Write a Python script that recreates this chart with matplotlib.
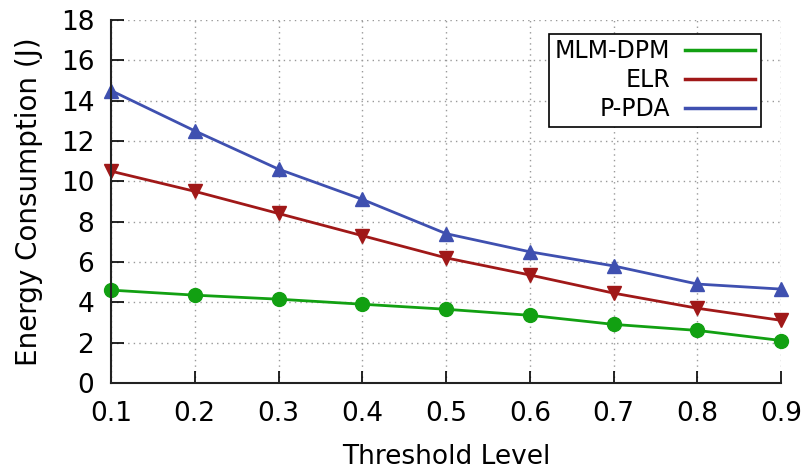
import matplotlib.pyplot as plt
from matplotlib.lines import Line2D

thresholds = [0.1, 0.2, 0.3, 0.4, 0.5, 0.6, 0.7, 0.8, 0.9]
mlm_dpm = [4.6, 4.35, 4.15, 3.9, 3.65, 3.35, 2.9, 2.6, 2.1]
elr = [10.5, 9.5, 8.4, 7.3, 6.2, 5.35, 4.45, 3.7, 3.1]
p_pda = [14.5, 12.5, 10.6, 9.1, 7.4, 6.5, 5.8, 4.9, 4.65]

fig = plt.figure(figsize=(8.07, 4.75), dpi=100)
ax = fig.add_axes([0.1375, 0.194, 0.8305, 0.764])

ax.plot(thresholds, mlm_dpm, color='#12a012', lw=2, marker='o', ms=10, label='MLM-DPM')
ax.plot(thresholds, elr, color='#a01818', lw=2, marker='v', ms=10, label='ELR')
ax.plot(thresholds, p_pda, color='#3f50b0', lw=2, marker='^', ms=10, label='P-PDA')

ax.set_xlim(0.1, 0.9)
ax.set_ylim(0, 18)
ax.set_xticks(thresholds)
ax.set_xticklabels([f'{t:.1f}' for t in thresholds])
ax.set_yticks(range(0, 19, 2))

ax.tick_params(direction='in', length=9, width=1.2, labelsize=19)
ax.tick_params(axis='x', pad=13)
ax.tick_params(axis='y', pad=12)
ax.grid(True, linestyle=(0, (1, 3)), color='#999999', lw=1)
for side in ['top', 'right']:
    ax.spines[side].set_visible(False)
for side in ['left', 'bottom']:
    ax.spines[side].set_linewidth(1.5)
    ax.spines[side].set_color('#222222')
for ln in ax.lines:
    ln.set_clip_on(False)

ax.set_xlabel('Threshold Level', fontsize=19, labelpad=12)
ax.set_ylabel('Energy Consumption (J)', fontsize=20, labelpad=13)

handles, labels = ax.get_legend_handles_labels()
legend_handles = [Line2D([], [], color=h.get_color(), lw=2.5) for h in handles]
leg = ax.legend(legend_handles, labels, loc='upper right', bbox_to_anchor=(0.988, 0.995),
                markerfirst=False, fontsize=17, fancybox=False, framealpha=1,
                edgecolor='black', handlelength=3.0, handletextpad=0.6,
                borderpad=0.25, labelspacing=0.2)
leg.get_frame().set_linewidth(1.2)
leg._legend_box.align = 'right'

fig.savefig('out.png', dpi=100)
